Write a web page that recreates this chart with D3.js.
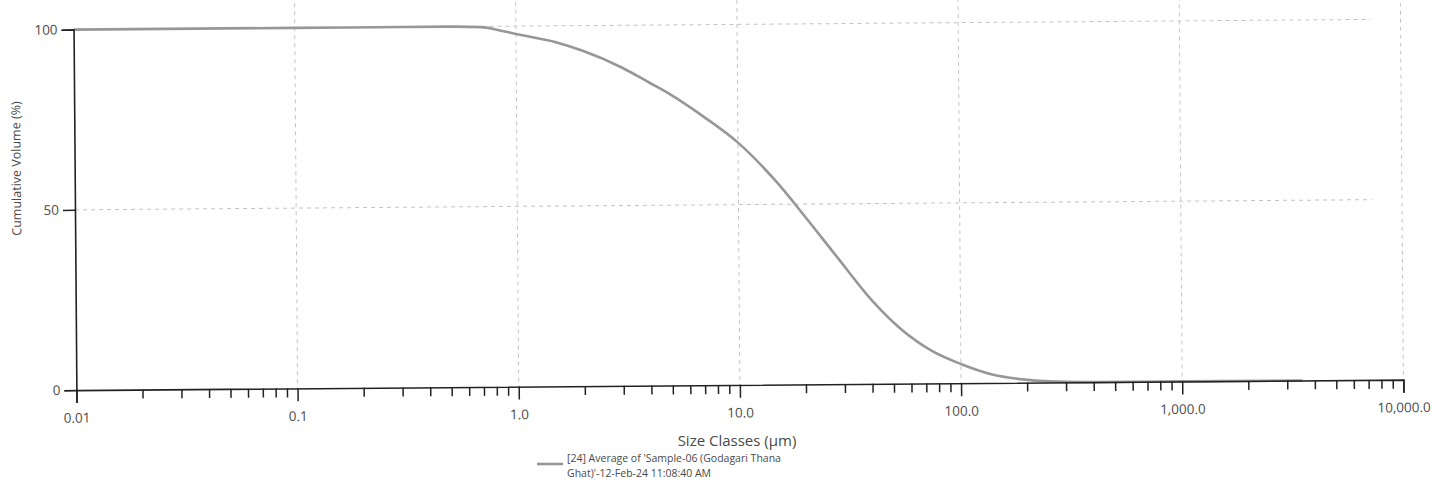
<!DOCTYPE html>
<html>
<head>
<meta charset="utf-8">
<script src="https://cdn.jsdelivr.net/npm/d3@7"></script>
<style>
  body { margin: 0; background: #ffffff; }
  svg { display: block; }
  text { font-family: 'Open Sans', 'Noto Sans', sans-serif; fill: #4a4a4a; }
</style>
</head>
<body>
<svg id="chart" width="1446" height="490"></svg>
<script>
// size classes (um) and cumulative volume (%)
const sizes = [0.01, 0.1, 0.3, 0.5, 0.7, 0.8, 1.0, 1.5, 2, 3, 4, 5, 7, 10, 15, 20, 28, 40, 54, 74, 100, 137, 190, 250, 400, 1000, 3500]
const cumVolume = [100, 100, 100, 100, 99.8, 99.2, 97.8, 95.5, 93.0, 88.3, 84.0, 80.6, 74.5, 67.2, 56, 46.5, 35, 23, 15, 9, 5.3, 2.4, 0.9, 0.3, 0, 0, 0]

const xTicks = [0.01, 0.1, 1, 10, 100, 1000, 10000]
const xTickLabels = ['0.01', '0.1', '1.0', '10.0', '100.0', '1,000.0', '10,000.0']
const yTicks = [0, 50, 100]

const legendLines = ["[24] Average of 'Sample-06 (Godagari Thana", "Ghat)'-12-Feb-24 11:08:40 AM"]

const svg = d3.select('#chart')
// the printed page was scanned a little crooked
const g = svg.append('g').attr('transform', 'rotate(-0.45,723,210)')

const x = d3.scaleLog().domain([0.01, 10000]).range([75, 1402])
const y = d3.scaleLinear().domain([0, 100]).range([385, 24.5])

// minor ticks 2..9 in every decade
let minor = []
for (let d = -2; d < 4; d++) {
  for (let k = 2; k <= 9; k++) minor.push(k * Math.pow(10, d))
}

// gridlines
g.selectAll('.vgrid')
  .data(xTicks.slice(1))
  .enter()
  .append('line')
  .attr('class', 'vgrid')
  .attr('x1', d => x(d)).attr('x2', d => x(d))
  .attr('y1', 0).attr('y2', y(0))
  .attr('stroke', '#c4c4c4')
  .attr('stroke-dasharray', '4,4')

g.selectAll('.hgrid')
  .data([50, 100])
  .enter()
  .append('line')
  .attr('class', 'hgrid')
  .attr('x1', x(0.01)).attr('x2', 1372)
  .attr('y1', d => y(d)).attr('y2', d => y(d))
  .attr('stroke', '#c4c4c4')
  .attr('stroke-dasharray', '4,4')

// the curve
const line = d3.line()
  .x((d, i) => x(sizes[i]))
  .y(d => y(d))
  .curve(d3.curveMonotoneX)

g.append('path')
  .datum(cumVolume)
  .attr('d', line)
  .attr('fill', 'none')
  .attr('stroke', '#979797')
  .attr('stroke-width', 2.6)

// x axis with major and minor ticks
const xAxis = g.append('g').attr('transform', 'translate(0,' + y(0) + ')')
xAxis.call(d3.axisBottom(x)
  .tickValues(xTicks)
  .tickSize(13)
  .tickPadding(10)
  .tickFormat((d, i) => xTickLabels[i]))
xAxis.selectAll('.minor')
  .data(minor)
  .enter()
  .append('line')
  .attr('class', 'minor')
  .attr('x1', d => x(d)).attr('x2', d => x(d))
  .attr('y1', 0).attr('y2', 9)
  .attr('stroke', '#222')
  .attr('stroke-width', 1.5)

// y axis
const yAxis = g.append('g').attr('transform', 'translate(' + x(0.01) + ',0)')
yAxis.call(d3.axisLeft(y).tickValues(yTicks).tickSize(12).tickPadding(4).tickFormat(d3.format('d')))

svg.selectAll('.domain').attr('stroke', '#222').attr('stroke-width', 1.6)
svg.selectAll('.tick line').attr('stroke', '#222').attr('stroke-width', 1.5)
svg.selectAll('.tick text').style('font-size', '13.5px').style('font-family', "'Open Sans', sans-serif").attr('fill', '#4a4a4a')

// axis titles
g.append('text')
  .attr('transform', 'translate(21,' + 163 + ') rotate(-90)')
  .attr('text-anchor', 'middle')
  .style('font-size', '12.5px')
  .text('Cumulative Volume (%)')

svg.append('text')
  .attr('x', 737).attr('y', 446)
  .attr('text-anchor', 'middle')
  .style('font-size', '15px')
  .text('Size Classes (µm)')

// legend
svg.append('line')
  .attr('x1', 537).attr('x2', 563)
  .attr('y1', 464).attr('y2', 464)
  .attr('stroke', '#979797')
  .attr('stroke-width', 2.6)

svg.selectAll('.legend')
  .data(legendLines)
  .enter()
  .append('text')
  .attr('class', 'legend')
  .attr('x', 567)
  .attr('y', (d, i) => 462 + i * 15)
  .style('font-size', '10.5px')
  .text(d => d)
</script>
</body>
</html>
